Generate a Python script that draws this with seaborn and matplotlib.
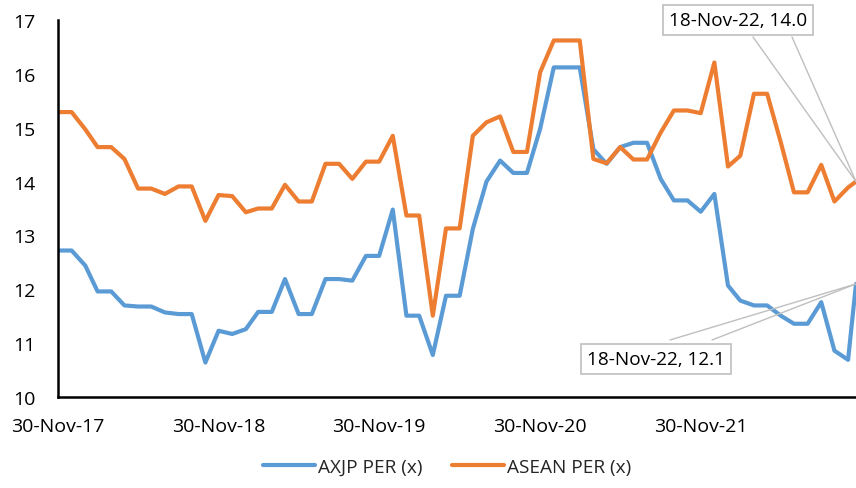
import pandas as pd
import matplotlib.pyplot as plt
import matplotlib.dates as mdates
from matplotlib.lines import Line2D
import seaborn as sns

# month-end observations plus the last reading on 18-Nov-22
dates = list(pd.date_range("2017-11-30", "2022-10-31", freq="ME")) + [pd.Timestamp("2022-11-18")]

axjp = [12.72, 12.72, 12.44, 11.96, 11.96, 11.70, 11.68, 11.68, 11.57, 11.54,
        11.54, 10.64, 11.23, 11.17, 11.26, 11.58, 11.58, 12.19, 11.54, 11.54,
        12.19, 12.19, 12.16, 12.62, 12.62, 13.48, 11.51, 11.51, 10.78, 11.88,
        11.88, 13.12, 14.00, 14.39, 14.16, 14.16, 14.98, 16.12, 16.12, 16.12,
        14.60, 14.33, 14.64, 14.72, 14.72, 14.05, 13.65, 13.65, 13.44, 13.77,
        12.07, 11.79, 11.70, 11.70, 11.51, 11.36, 11.36, 11.76, 10.86, 10.69,
        12.1]
asean = [15.29, 15.29, 14.97, 14.64, 14.64, 14.42, 13.87, 13.87, 13.77, 13.91,
         13.91, 13.27, 13.75, 13.73, 13.43, 13.50, 13.50, 13.94, 13.63, 13.63,
         14.33, 14.33, 14.05, 14.37, 14.37, 14.85, 13.37, 13.37, 11.51, 13.13,
         13.13, 14.85, 15.10, 15.21, 14.55, 14.55, 16.03, 16.62, 16.62, 16.62,
         14.42, 14.34, 14.64, 14.41, 14.41, 14.91, 15.32, 15.32, 15.27, 16.21,
         14.28, 14.48, 15.63, 15.63, 14.73, 13.80, 13.80, 14.31, 13.63, 13.89,
         14.0]

series_names = ["AXJP PER (x)", "ASEAN PER (x)"]
colors = {"AXJP PER (x)": "#5B9BD5", "ASEAN PER (x)": "#ED7D31"}
year_ticks = pd.to_datetime(["2017-11-30", "2018-11-30", "2019-11-30", "2020-11-30", "2021-11-30"])

df = pd.DataFrame({
    "date": dates * 2,
    "per": axjp + asean,
    "series": [series_names[0]] * len(dates) + [series_names[1]] * len(dates),
})

sns.set_style("white")
plt.rcParams["font.family"] = ["Open Sans", "DejaVu Sans"]

fig = plt.figure(figsize=(8.56, 4.89), dpi=100)
ax = fig.add_axes([58 / 856, 1 - 398 / 489, 1 - 58 / 856, (398 - 21) / 489])

sns.lineplot(data=df, x="date", y="per", hue="series", palette=colors, linewidth=3,
             ax=ax, legend=False, solid_joinstyle="round", solid_capstyle="round")

ax.set_xlim(dates[0], dates[-1])
ax.set_ylim(10, 17)
ax.set_yticks(range(10, 18))
ax.set_xticks(year_ticks)
ax.xaxis.set_major_formatter(mdates.DateFormatter("%d-%b-%y"))
ax.set_xlabel("")
ax.set_ylabel("")
ax.tick_params(axis="y", length=0, pad=16.5, labelsize=14, colors="black")
ax.tick_params(axis="x", length=5, width=1.5, direction="out", pad=9.5, labelsize=14,
               colors="black")
for side in ["top", "right"]:
    ax.spines[side].set_visible(False)
for side in ["left", "bottom"]:
    ax.spines[side].set_color("black")
    ax.spines[side].set_linewidth(1.8)

# callout labels for the last readings
grey = "#BFBFBF"
callouts = [
    (asean[-1], (738, 468), [(753, 451), (792, 451)]),
    (axjp[-1], (656, 129), [(670, 148), (712, 148)]),
]
for val, (tx, ty), starts in callouts:
    for sx, sy in starts:
        ax.annotate("", xy=(dates[-1], val), xycoords="data", xytext=(sx, sy),
                    textcoords="figure pixels",
                    arrowprops=dict(arrowstyle="-", color=grey, lw=1, shrinkA=0, shrinkB=0))
    fig.text(tx / 856, ty / 489, f"{dates[-1]:%d-%b-%y}, {val:.1f}", ha="center", va="center",
             fontsize=13.7, color="black",
             bbox=dict(boxstyle="square,pad=0.3", facecolor="white", edgecolor=grey, lw=1.2))

handles = [Line2D([], [], color=colors[n], lw=3, solid_capstyle="round") for n in series_names]
fig.legend(handles, series_names, loc="center", bbox_to_anchor=(0.522, 1 - 468 / 489), ncol=2,
           frameon=False, fontsize=13.7, handlelength=2.75, columnspacing=1.55, handletextpad=0.15)

fig.savefig("out.png", dpi=100)
